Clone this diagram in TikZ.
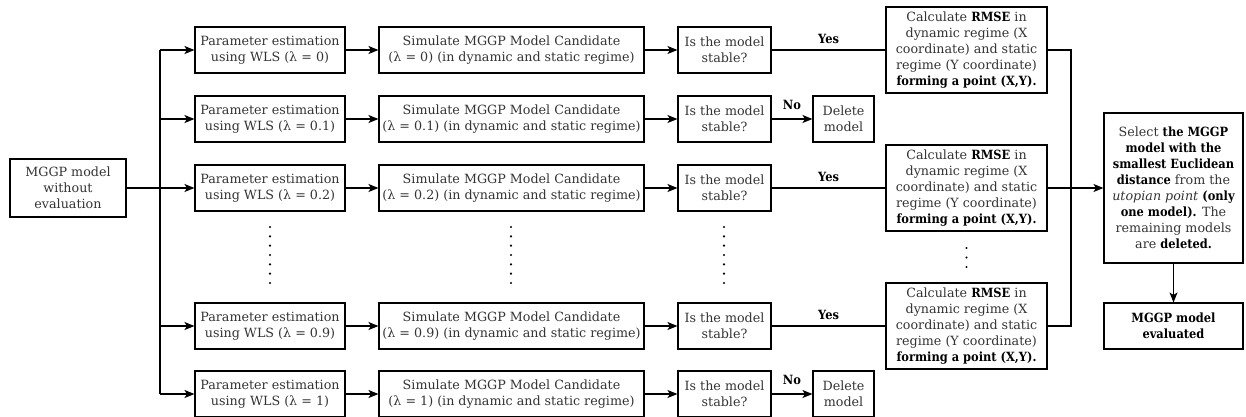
\documentclass[tikz,border=0pt]{standalone}
\usepackage{fontspec}
\setmainfont{DejaVu Serif}[BoldFeatures={FakeStretch=0.9}]
\usetikzlibrary{arrows.meta,calc}
\newcommand\B[1]{\textbf{\color{black}#1}}
\begin{document}
\begin{tikzpicture}[x=1pt,y=-1pt,
  box/.style={draw=black, line width=1.1pt, inner sep=0pt, align=center, text=black!80,
    font=\fontsize{12.7}{16}\selectfont},
  pbox/.style={box, minimum width=150, minimum height=46},
  sbox/.style={box, minimum width=265, minimum height=46},
  qbox/.style={box, minimum width=93, minimum height=46},
  dbox/.style={box, minimum width=61, minimum height=46},
  cbox/.style={box, minimum width=161, minimum height=86},
  arr/.style={line width=1.1pt, -{Stealth[length=10pt,width=8pt,inset=2.5pt]}},
  ln/.style={line width=1.1pt},
  lab/.style={font=\fontsize{12.7}{16}\selectfont\bfseries, text=black, inner sep=0pt},
  dot/.style={fill=black}]
\useasboundingbox (0,0) rectangle (1246,416);

% input
\node[box, minimum width=116, minimum height=58] (in) at (68,188) {MGGP model\\without\\evaluation};

% rows
\foreach \r/\y/\l in {1/50/0, 2/119/0.1, 3/188/0.2, 5/326/0.9, 6/394/1}{
  \node[pbox] (p\r) at (270,\y) {Parameter estimation\\using WLS (λ = \l)};
  \node[sbox] (s\r) at (511.5,\y) {Simulate MGGP Model Candidate\\(λ = \l) (in dynamic and static regime)};
  \node[qbox] (q\r) at (724.5,\y) {Is the model\\stable?};
  \draw[arr] (p\r) -- (s\r);
  \draw[arr] (s\r) -- (q\r);
}

% delete boxes
\foreach \r in {2,6}{
  \node[dbox] (d\r) at (843.5,0 |- q\r) {Delete\\model};
  \draw[arr] (q\r) -- node[lab, above=9pt] {No} (d\r);
}

% calculate boxes
\foreach \r in {1,3,5}{
  \node[cbox] (c\r) at (966.5,0 |- q\r) {Calculate \B{RMSE} in\\dynamic regime (X\\coordinate) and static\\regime (Y coordinate)\\\B{forming a point (X,Y).}};
  \draw[ln] (q\r) -- node[lab, pos=0.5, above=6pt] {Yes} (c\r);
}

% left bus
\coordinate (bT) at (160,50);
\coordinate (bB) at (160,394);
\draw[ln] (bT) -- (bB);
\draw[ln] (in) -- (in -| bT);
\foreach \r in {1,2,3,5,6}{
  \draw[arr] (p\r -| bT) -- (p\r);
}

% selection
\node[box, minimum width=139, minimum height=150] (sel) at (1173.5,188)
  {Select \B{the MGGP}\\\B{model with the}\\\B{smallest Euclidean}\\\B{distance} from the\\\textit{utopian point} \B{(only}\\\B{one model).} The\\remaining models\\are \B{deleted.}};
\node[box, minimum width=139, minimum height=46, text=black] (ev) at (1173.5,326) {\textbf{MGGP model}\\\textbf{evaluated}};

\coordinate (rx) at (1071,0);
\draw[ln] (c1.east) -- (c1.east -| rx) -- (c5.east -| rx) -- (c5.east);
\draw[arr] (c3.east) -- (sel.west);
\draw[arr] (sel) -- (ev);

% dots
\foreach \x in {270,511,724}{
  \foreach \k in {0,...,6}{
    \fill[dot] (\x,227+9.33*\k) circle (1.2);
  }
}
\foreach \k in {0,1,2}{
  \fill[dot] (966.5,248+9.5*\k) circle (1.2);
}
\end{tikzpicture}
\end{document}
